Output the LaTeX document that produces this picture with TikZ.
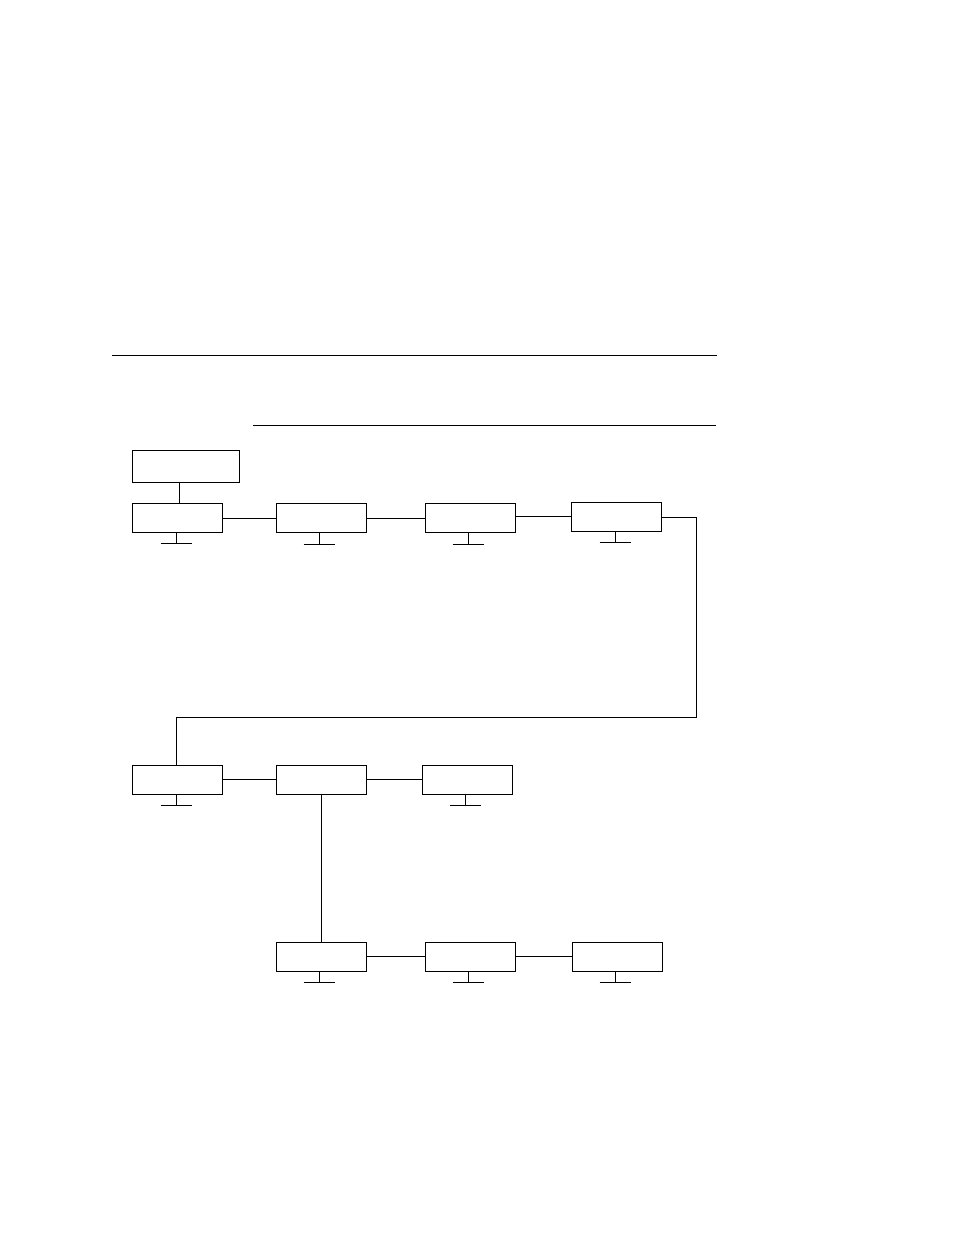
\documentclass[tikz,border=0pt]{standalone}
\usepackage{xcolor}
\usepackage{amsmath}
\usepackage{tikz}

\begin{document}
\begin{tikzpicture}[x=0.75pt,y=0.75pt,yscale=-1,xscale=1,line width=0.75pt,
	unit/.style={draw,rectangle,inner sep=0pt,minimum width=67.5pt,minimum height=21.75pt},
	headunit/.style={unit,minimum width=80.25pt,minimum height=24pt}]
	\useasboundingbox (0,0) rectangle (954,1235);
	
	%Straight Lines (rules)
	\coordinate (ruleA1) at (112,355);
	\coordinate (ruleA2) at (717,355);
	\coordinate (ruleB1) at (253,425);
	\coordinate (ruleB2) at (716,425);
	\draw (ruleA1) -- (ruleA2) ;
	\draw (ruleB1) -- (ruleB2) ;
	
	%Rect (head)
	\node [headunit] (head) at (185.5,466) {};
	%Rect (row 1)
	\node [unit] (u1) at (177,517.5) {};
	\node [unit] (u2) at (321,518) {};
	\node [unit] (u3) at (470,518) {};
	\node [unit] (u4) at (616.5,516.5) {};
	%Rect (row 2)
	\node [unit] (u5) at (177,779.5) {};
	\node [unit] (u6) at (321,779.5) {};
	\node [unit] (u7) at (467,779.5) {};
	%Rect (row 3)
	\node [unit] (u8) at (321,956.5) {};
	\node [unit] (u9) at (470,956.5) {};
	\node [unit] (u10) at (617,956.5) {};
	
	%Stands
	\foreach \n/\dx in {u1/-1,u2/-2,u3/-2,u4/-1.5,u5/-1,u7/-2,u8/-2,u9/-2,u10/-2}
		\draw ([xshift=\dx*0.75pt]\n.south) -- ++(0,11) coordinate (\n-ft) ++(-15.5,0) -- ++(31,0) ;
	
	%Straight Lines (links)
	\path (u1.north) ++(2,0) coordinate (hub) ;
	\draw (hub) -- (hub |- head.south) ;
	\foreach \a/\b in {u1/u2,u2/u3,u3/u4,u5/u6,u6/u7,u8/u9,u9/u10}
		\draw (\b.west) -- (\b.west -| \a.east) ;
	\coordinate (turnA) at (696,517.5);
	\coordinate (turnB) at (696,717);
	\path (u5.north) ++(-1,0) coordinate (drop) ;
	\draw (u4.east |- turnA) -- (turnA) -- (turnB) -- (turnB -| drop) -- (drop) ;
	\draw (u6.south) -- (u8.north) ;
	
\end{tikzpicture}
\end{document}
